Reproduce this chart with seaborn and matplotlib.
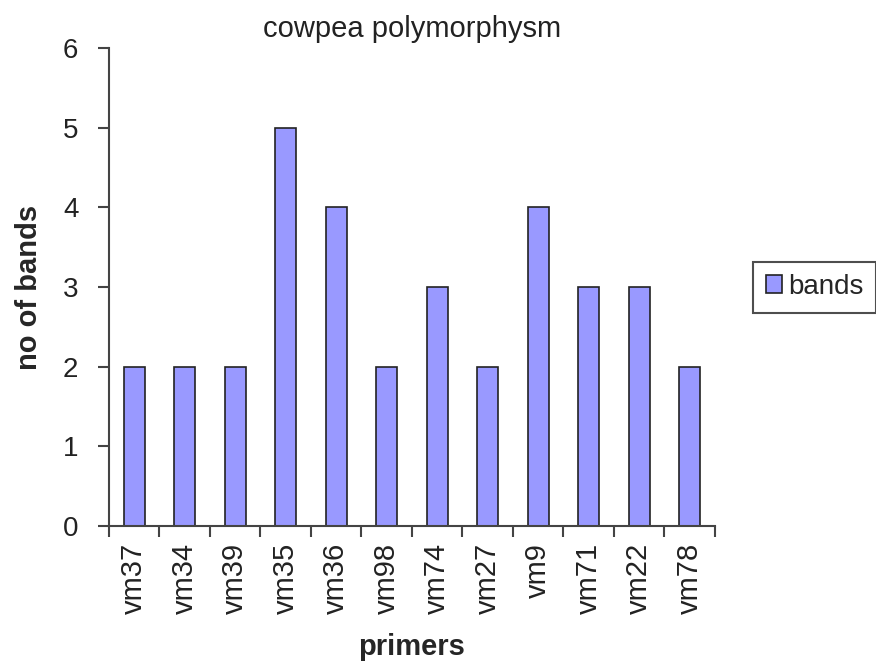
import matplotlib
matplotlib.use("Agg")
import matplotlib.pyplot as plt
import numpy as np
import pandas as pd
import seaborn as sns

# datos
primers = ["vm37", "vm34", "vm39", "vm35", "vm36", "vm98",
           "vm74", "vm27", "vm9", "vm71", "vm22", "vm78"]
bands = [2, 2, 2, 5, 4, 2, 3, 2, 4, 3, 3, 2]

df = pd.DataFrame({"primers": primers, "bands": bands})

sns.set_style("ticks")
plt.rcParams["font.family"] = ["Liberation Sans", "DejaVu Sans"]

fig = plt.figure(figsize=(8.76, 6.61), dpi=100)
ax = fig.add_axes([0.1244, 0.2042, 0.6918, 0.7232])

sns.barplot(data=df, x="primers", y="bands", color="#9999FF",
            saturation=1, width=0.42, edgecolor="#222222", linewidth=1.2,
            label="bands", ax=ax)

ax.set_xlim(-0.5, len(primers) - 0.5)
ax.set_ylim(0, 6)
ax.set_yticks(range(0, 7))

# ticks del eje x entre categorias (estilo Excel)
ax.set_xticks(np.arange(len(primers)), primers, rotation=90)
ax.set_xticks(np.arange(-0.5, len(primers)), minor=True)
ax.tick_params(axis="x", which="major", bottom=True, length=0, pad=12,
               labelsize=21, colors="#222222")
ax.tick_params(axis="x", which="minor", bottom=True, length=8, width=1.5,
               color="#444444", direction="out")
ax.tick_params(axis="y", left=True, length=8, width=1.5, color="#444444",
               direction="out", labelsize=20, labelcolor="#222222", pad=14)

for side in ["top", "right"]:
    ax.spines[side].set_visible(False)
for side in ["left", "bottom"]:
    ax.spines[side].set_color("#444444")
    ax.spines[side].set_linewidth(1.5)

ax.set_xlabel("primers", fontsize=21, fontweight="heavy", labelpad=14)
ax.set_ylabel("no of bands", fontsize=21, fontweight="heavy", labelpad=14)
ax.set_title("cowpea polymorphysm", fontsize=21, color="#222222", pad=8)

leg = ax.legend(loc="center left", bbox_to_anchor=(1.04, 0.5), fontsize=20,
                frameon=True, fancybox=False, handlelength=0.6, handleheight=0.6,
                handletextpad=0.2, borderpad=0.45, edgecolor="#222222")
leg.get_frame().set_linewidth(1.5)

fig.savefig("out.png", dpi=100)
